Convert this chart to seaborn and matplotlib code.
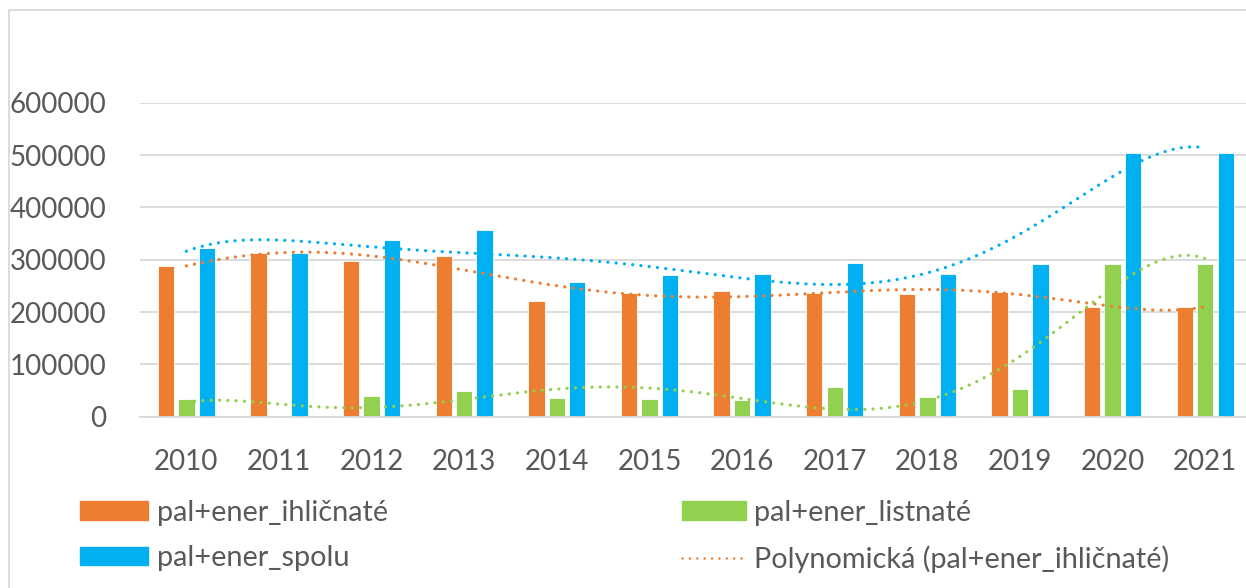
import numpy as np
import pandas as pd
import seaborn as sns
import matplotlib.pyplot as plt
from matplotlib.patches import Patch, Rectangle
from matplotlib.lines import Line2D

years = ['2010', '2011', '2012', '2013', '2014', '2015', '2016', '2017', '2018', '2019', '2020', '2021']
ihlicnate = [288600, 313400, 297500, 307700, 221000, 237000, 240000, 237000, 234000, 239000, 210000, 210000]
listnate = [33800, 0, 39500, 49000, 36000, 33000, 32000, 57300, 38000, 52000, 292000, 292000]
spolu = [323000, 313400, 337000, 356000, 257400, 270800, 272700, 293700, 272700, 291800, 503300, 503300]
series_names = ['pal+ener_ihličnaté', 'pal+ener_listnaté', 'pal+ener_spolu']
trend_label = 'Polynomická (pal+ener_ihličnaté)'

colors = {'pal+ener_ihličnaté': '#ED7D31', 'pal+ener_listnaté': '#92D050', 'pal+ener_spolu': '#00B0F0'}

df = pd.DataFrame({'year': years * 3,
                   'series': np.repeat(series_names, len(years)),
                   'value': ihlicnate + listnate + spolu})

sns.set_theme(style='white')
plt.rcParams['font.family'] = ['Lato', 'DejaVu Sans']
text_color = '#595959'
fs = 20

fig = plt.figure(figsize=(12.46, 5.88), dpi=100)
ax = fig.add_axes([140 / 1246, 1 - 416.7 / 588, 1 - 140 / 1246, (416.7 - 102.7) / 588])

sns.barplot(data=df, x='year', y='value', hue='series', palette=colors, saturation=1,
            width=0.663, gap=0.2, edgecolor='white', linewidth=0.6,
            legend=False, ax=ax, zorder=2)

# polynomial trend lines (order 6), as in the source spreadsheet
xs = np.arange(len(years))
xx = np.linspace(0, len(years) - 1, 300)
dots = (0, (0.05, 2.55))
for name, vals in zip(series_names, [ihlicnate, listnate, spolu]):
    coef = np.polyfit(xs, vals, 6)
    ax.plot(xx, np.polyval(coef, xx), color=colors[name], lw=2.3,
            linestyle=dots, dash_capstyle='round', zorder=3)

ax.set_ylim(0, 600000)
ax.set_xlim(-0.5, 11.44)
ax.set_yticks(range(0, 600001, 100000))
ax.yaxis.grid(True, color='#d9d9d9', lw=1.3, zorder=0)
ax.set_axisbelow(True)
for s in ['top', 'right', 'left']:
    ax.spines[s].set_visible(False)
ax.spines['bottom'].set_color('#d9d9d9')
ax.spines['bottom'].set_linewidth(1.3)
ax.tick_params(axis='both', length=0, labelsize=fs, labelcolor=text_color)
ax.tick_params(axis='y', pad=24)
ax.tick_params(axis='x', pad=23)
ax.set_xlabel('')
ax.set_ylabel('')

# chart border (the picture is a crop of a larger chart)
fig.add_artist(Rectangle((9 / 1246, -0.5), 2, 1.5 - 10 / 588, transform=fig.transFigure,
                         fill=False, edgecolor='#d9d9d9', lw=1.3))

h_ihl = Patch(color=colors['pal+ener_ihličnaté'], label='pal+ener_ihličnaté')
h_lis = Patch(color=colors['pal+ener_listnaté'], label='pal+ener_listnaté')
h_spo = Patch(color=colors['pal+ener_spolu'], label='pal+ener_spolu')
h_tr = Line2D([0], [0], color=colors['pal+ener_ihličnaté'], lw=1.8,
              linestyle=(0, (0.05, 2.9)), dash_capstyle='round', label=trend_label)

leg_fs = 20.8
leg_kw = dict(frameon=False, fontsize=leg_fs, handleheight=0.62,
              handletextpad=0.3, labelspacing=0.66, labelcolor=text_color,
              borderpad=0, borderaxespad=0)
leg1 = fig.legend(handles=[h_ihl, h_spo], loc='upper left', handlelength=2.35,
                  bbox_to_anchor=(80 / 1246, 1 - 500 / 588), **leg_kw)
leg2 = fig.legend(handles=[h_lis, h_tr], loc='upper left', handlelength=2.2,
                  bbox_to_anchor=(682 / 1246, 1 - 500 / 588), **leg_kw)

fig.savefig('out.png', dpi=100)
